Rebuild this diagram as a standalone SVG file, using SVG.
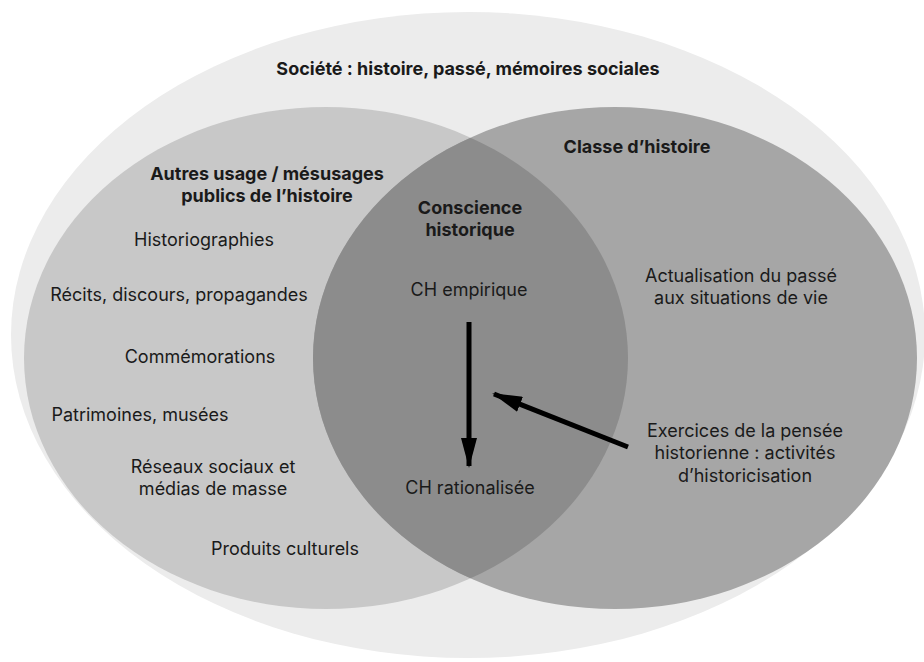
<svg xmlns="http://www.w3.org/2000/svg" width="924" height="662" viewBox="0 0 924 662">
<style>
text{font-family:Inter,"Noto Sans","Liberation Sans",sans-serif;fill:#1a1a1a;text-anchor:middle}
.b{font-weight:700;font-size:18px}
.r{font-weight:400;font-size:18px}
.arr{stroke:#000;stroke-width:5;fill:none}
</style>
<defs>
<clipPath id="clipR"><ellipse cx="615" cy="358" rx="302" ry="251"/></clipPath>
<marker id="ah" viewBox="0 0 30 16" refX="28" refY="8" markerWidth="30" markerHeight="16" markerUnits="userSpaceOnUse" orient="auto"><path d="M0,0 L30,8 L0,16 Z" fill="#000"/></marker>
</defs>
<rect width="924" height="662" fill="#fff"/>
<g id="societe">
<ellipse cx="468" cy="335" rx="457" ry="323" fill="#ececec"/>
<text class="b" x="468" y="75">Société : histoire, passé, mémoires sociales</text>
</g>
<g id="autres-usages">
<ellipse cx="326" cy="358" rx="302" ry="251" fill="#c8c8c8"/>
</g>
<g id="classe">
<ellipse cx="615" cy="358" rx="302" ry="251" fill="#a6a6a6"/>
</g>
<g id="conscience">
<ellipse cx="326" cy="358" rx="302" ry="251" fill="#8c8c8c" clip-path="url(#clipR)"/>
</g>
<g id="labels-autres">
<text class="b" x="267" y="180">Autres usage / mésusages</text>
<text class="b" x="267" y="202">publics de l’histoire</text>
<text class="r" x="204" y="246">Historiographies</text>
<text class="r" x="179" y="301">Récits, discours, propagandes</text>
<text class="r" x="200" y="363">Commémorations</text>
<text class="r" x="140" y="421">Patrimoines, musées</text>
<text class="r" x="213" y="473">Réseaux sociaux et</text>
<text class="r" x="213" y="495">médias de masse</text>
<text class="r" x="285" y="555">Produits culturels</text>
</g>
<g id="labels-classe">
<text class="b" x="637" y="153">Classe d’histoire</text>
<text class="r" x="741" y="282">Actualisation du passé</text>
<text class="r" x="741" y="304">aux situations de vie</text>
<text class="r" x="745" y="437">Exercices de la pensée</text>
<text class="r" x="745" y="459">historienne : activités</text>
<text class="r" x="745" y="482">d’historicisation</text>
</g>
<g id="labels-conscience">
<text class="b" x="470" y="214">Conscience</text>
<text class="b" x="470" y="236">historique</text>
<text class="r" x="469" y="296">CH empirique</text>
<text class="r" x="470" y="494">CH rationalisée</text>
</g>
<g id="connectors">
<line class="arr" x1="469" y1="322" x2="469" y2="466" marker-end="url(#ah)"/>
<line class="arr" x1="628" y1="447" x2="494" y2="394" marker-end="url(#ah)"/>
</g>
</svg>
